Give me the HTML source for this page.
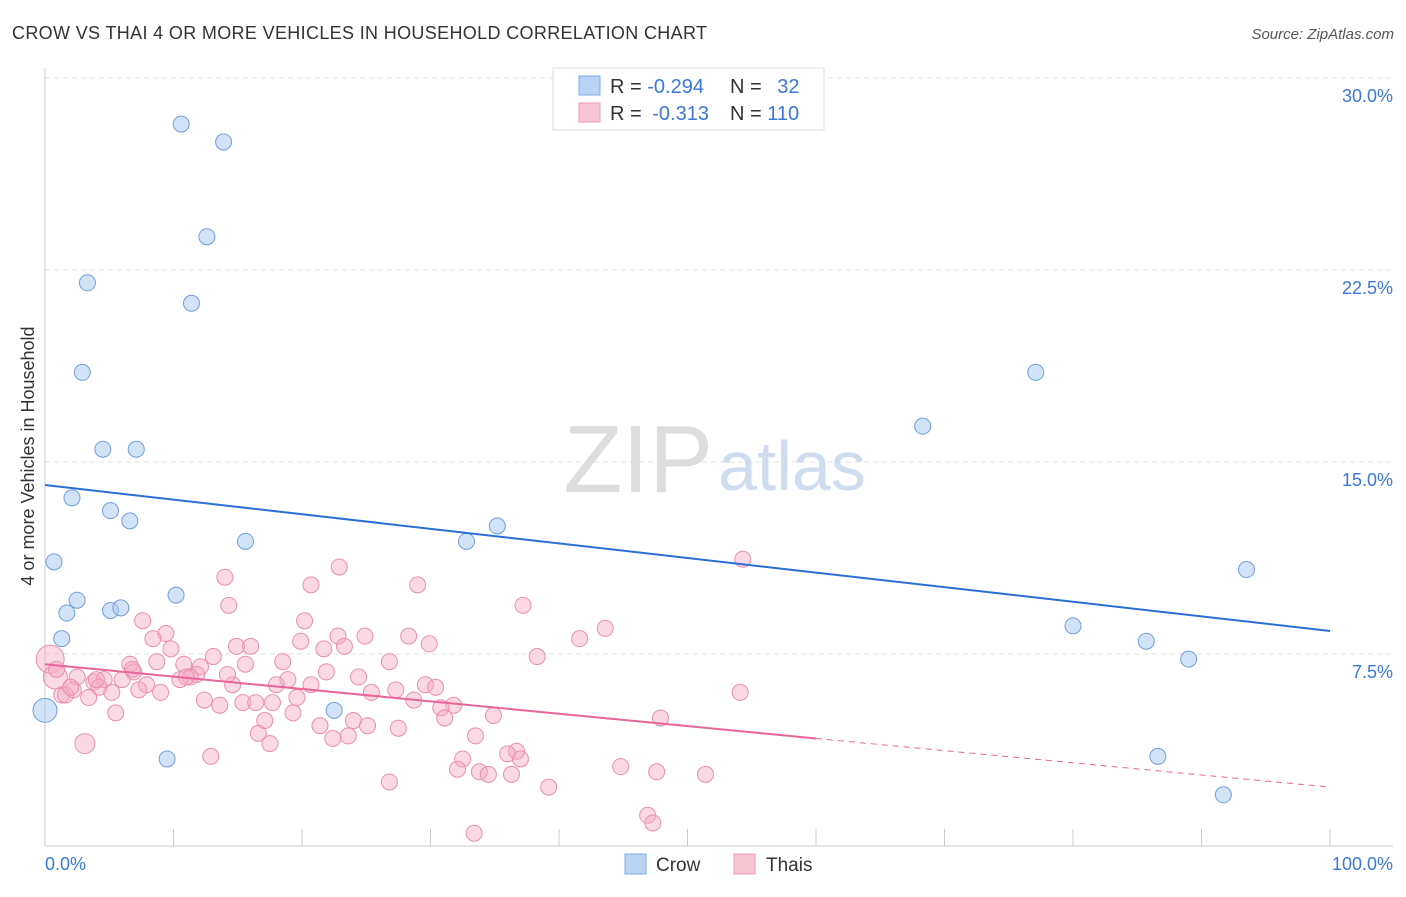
<!DOCTYPE html>
<html><head><meta charset="utf-8"><style>
body{margin:0;background:#fff;font-family:"Liberation Sans",sans-serif;}
svg text{font-family:"Liberation Sans",sans-serif;}
</style></head><body>
<svg id="chart" width="1406" height="892" xmlns="http://www.w3.org/2000/svg">
<text x="12" y="39" font-size="18" fill="#333" textLength="695">CROW VS THAI 4 OR MORE VEHICLES IN HOUSEHOLD CORRELATION CHART</text>
<text x="1394" y="39" font-size="15" fill="#555" font-style="italic" text-anchor="end">Source: ZipAtlas.com</text>
<text transform="translate(34,456) rotate(-90)" font-size="18" fill="#333" text-anchor="middle">4 or more Vehicles in Household</text>
<g id="grid"></g>
<text x="713" y="492" font-size="96" fill="#ddd" font-family="Liberation Serif" text-anchor="end">ZIP</text>
<text x="718" y="490" font-size="70" fill="#cfdcf0">atlas</text>
<g id="pts"></g>
<g id="lines"></g>
<g>
<rect x="553" y="68" width="271" height="62" fill="#fff" stroke="#ddd"/>
<rect x="579" y="76" width="21" height="19" fill="#b9d3f5" stroke="#7eaae4"/>
<rect x="579" y="103" width="21" height="19" fill="#f8c5d4" stroke="#ec9ab4"/>
<text x="610" y="93" font-size="20" fill="#333">R = <tspan fill="#3b78d8">-0.294</tspan></text>
<text x="730" y="93" font-size="20" fill="#333">N = <tspan fill="#3b78d8" dx="10">32</tspan></text>
<text x="610" y="120" font-size="20" fill="#333">R = <tspan fill="#3b78d8" dx="5">-0.313</tspan></text>
<text x="730" y="120" font-size="20" fill="#333">N = <tspan fill="#3b78d8">110</tspan></text>
</g>
<g>
<rect x="625" y="854" width="21" height="20" fill="#b9d3f5" stroke="#7eaae4"/>
<text x="656" y="871" font-size="19" fill="#333">Crow</text>
<rect x="734" y="854" width="21" height="20" fill="#f8c5d4" stroke="#ec9ab4"/>
<text x="766" y="871" font-size="19" fill="#333">Thais</text>
</g>
<text x="45" y="870" font-size="18" fill="#3b78d8">0.0%</text>
<text x="1393" y="870" font-size="18" fill="#3b78d8" text-anchor="end">100.0%</text>
</svg>
<script>
const yTicks=[7.5,15,22.5,30];
const yTickLabels=["7.5%","15.0%","22.5%","30.0%"];
const crowX=[10.6,13.9,12.6,3.3,11.4,2.9,4.5,7.1,2.1,5.1,6.6,15.6,0.7,10.2,2.5,1.7,5.1,5.9,1.3,0,9.5,22.5,32.8,35.2,68.3,77.1,80.0,85.7,89.0,93.5,86.6,91.7];
const crowY=[28.2,27.5,23.8,22.0,21.2,18.5,15.5,15.5,13.6,13.1,12.7,11.9,11.1,9.8,9.6,9.1,9.2,9.3,8.1,5.3,3.4,5.3,11.9,12.5,16.4,18.5,8.6,8.0,7.3,10.8,3.5,2.0];
const thaiX=[54.3,14.0,22.9,20.7,29.0,14.3,37.2,7.6,20.2,43.6,9.4,8.4,19.9,22.8,24.9,28.3,41.6,29.9,9.8,14.9,16.0,21.7,23.3,13.1,8.7,6.6,18.5,26.8,38.3,15.6,12.1,10.8,21.9,6.9,0.4,0.8,24.4,11.8,11.3,2.5,3.8,4.6,6.0,10.5,7.9,14.6,18.9,18.0,20.7,29.6,4.2,2.2,7.3,9.0,25.4,27.3,30.4,1.3,3.4,5.2,12.4,15.4,16.4,19.6,28.7,31.8,13.6,17.7,30.8,54.1,5.5,19.3,34.9,24.0,31.1,17.1,47.9,21.4,25.1,27.5,16.6,23.6,22.4,33.5,17.5,3.1,12.9,36.7,36.0,32.5,37.0,32.1,33.8,34.5,36.3,44.8,47.6,51.4,26.8,39.2,46.9,47.3,33.4,1.6,0.9,2.0,4.0,6.8,11.0,14.2];
const thaiY=[11.2,10.5,10.9,10.2,10.2,9.4,9.4,8.8,8.8,8.5,8.3,8.1,8.0,8.2,8.2,8.2,8.1,7.9,7.7,7.8,7.8,7.7,7.8,7.4,7.2,7.1,7.2,7.2,7.4,7.1,7.0,7.1,6.8,6.8,7.3,6.6,6.6,6.7,6.6,6.6,6.4,6.5,6.5,6.5,6.3,6.3,6.5,6.3,6.3,6.3,6.2,6.1,6.1,6.0,6.0,6.1,6.2,5.9,5.8,6.0,5.7,5.6,5.6,5.8,5.7,5.5,5.5,5.6,5.4,6.0,5.2,5.2,5.1,4.9,5.0,4.9,5.0,4.7,4.7,4.6,4.4,4.3,4.2,4.3,4.0,4.0,3.5,3.7,3.6,3.4,3.4,3.0,2.9,2.8,2.8,3.1,2.9,2.8,2.5,2.3,1.2,0.9,0.5,5.9,6.9,6.2,6.5,6.9,6.6,6.7];
const crowTrend=[14.1,8.4];
const thaiTrend=[7.1,4.2,2.3];
const X0=45,X1=1330,Y0=846,PX=25.6;
const sx=v=>X0+(X1-X0)*v/100, sy=v=>Y0-v*PX;
const NS="http://www.w3.org/2000/svg";
function mk(t,a,p){const e=document.createElementNS(NS,t);for(const k in a)e.setAttribute(k,a[k]);p.appendChild(e);return e;}
const grid=document.getElementById('grid');
yTicks.forEach((v,i)=>{
 const l=mk('line',{x1:45,x2:1393,y1:sy(v),y2:sy(v),stroke:'#e2e2e2','stroke-dasharray':'5,4'},grid);
 
 
 const t=mk('text',{x:1393,y:sy(v)+24,'font-size':18,fill:'#3b78d8','text-anchor':'end'},grid);
 t.textContent=yTickLabels[i];
 
 
});
const ax=mk('line',{x1:45,x2:45,y1:68,y2:846,stroke:'#ccc'},grid);


const bx=mk('line',{x1:45,x2:1393,y1:846,y2:846,stroke:'#ccc'},grid);


for(let i=0;i<=10;i++){const t=mk('line',{x1:sx(i*10),x2:sx(i*10),y1:829,y2:846,stroke:'#ccc'},grid);
 
 }
const pts=document.getElementById('pts');
thaiX.forEach((x,i)=>{
 let r=8; if(i==34)r=14; if(i==85)r=10; if(i==35)r=12;
 const c=mk('circle',{cx:sx(x),cy:sy(thaiY[i]),r:r,fill:'rgba(244,170,195,0.45)',stroke:'#e98fae','stroke-width':1},pts);
 
 
});
crowX.forEach((x,i)=>{
 const r=i==19?12:8;
 const c=mk('circle',{cx:sx(x),cy:sy(crowY[i]),r:r,fill:'rgba(168,200,240,0.5)',stroke:'#6f9fdc','stroke-width':1},pts);
 
 
});
const lines=document.getElementById('lines');
const l1=mk('line',{x1:sx(0),y1:sy(crowTrend[0]),x2:sx(100),y2:sy(crowTrend[1]),stroke:'#2a6fd6','stroke-width':2},lines);


const l2=mk('line',{x1:sx(0),y1:sy(thaiTrend[0]),x2:sx(60),y2:sy(thaiTrend[1]),stroke:'#e8659a','stroke-width':2},lines);


const l3=mk('line',{x1:sx(60),y1:sy(thaiTrend[1]),x2:sx(100),y2:sy(thaiTrend[2]),stroke:'#e8659a','stroke-width':1,'stroke-dasharray':'6,5'},lines);


</script>
</body></html>
